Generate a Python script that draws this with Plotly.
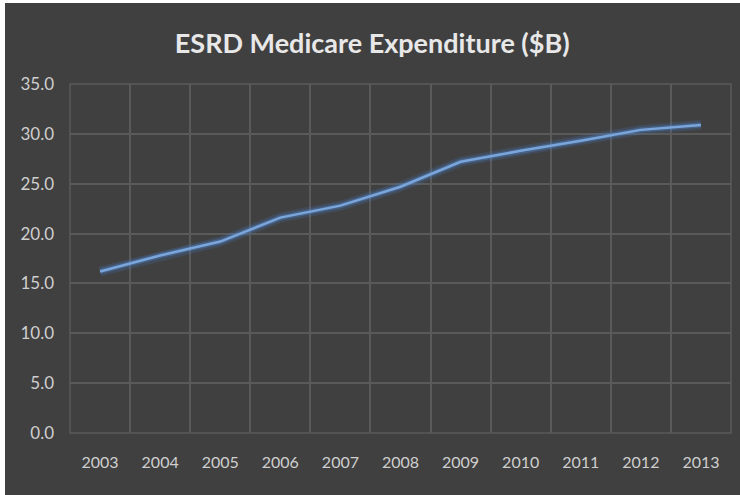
import plotly.graph_objects as go

years = ["2003", "2004", "2005", "2006", "2007", "2008", "2009", "2010", "2011", "2012", "2013"]
expenditure = [16.2, 17.8, 19.2, 21.6, 22.8, 24.7, 27.2, 28.3, 29.3, 30.4, 30.9]
y_ticks = [0, 5, 10, 15, 20, 25, 30, 35]
title_text = "ESRD Medicare Expenditure ($B)"

BG = "#404040"
GRID = "#5a5a5a"
TXT = "#cfcfcf"

fig = go.Figure()
# glow layers
fig.add_trace(go.Scatter(x=years, y=expenditure, mode="lines",
                         line=dict(color="rgba(70,130,210,0.18)", width=10),
                         hoverinfo="skip", showlegend=False))
fig.add_trace(go.Scatter(x=years, y=expenditure, mode="lines",
                         line=dict(color="rgba(80,140,215,0.35)", width=5.5),
                         hoverinfo="skip", showlegend=False))
fig.add_trace(go.Scatter(x=years, y=expenditure, mode="lines",
                         line=dict(color="#7aa6dc", width=2.5),
                         name="Expenditure", showlegend=False))

W, H = 740, 495
ml, mr, mt, mb = 70, 9, 84, 62
pw, ph = W - ml - mr, H - mt - mb

def px_x(p):
    return (p - ml) / pw

def px_y(p):
    return (H - mb - p) / ph

# plot-area frame (edge gridlines)
fig.add_shape(type="rect", xref="paper", yref="paper", x0=0, x1=1, y0=0, y1=1,
              line=dict(color=GRID, width=1.5), layer="below")

# white strips at the left and top edges of the image
fig.add_shape(type="rect", xref="paper", yref="paper",
              x0=px_x(-2), x1=px_x(5), y0=px_y(H + 2), y1=px_y(-2),
              fillcolor="white", line_width=0, layer="above")
fig.add_shape(type="rect", xref="paper", yref="paper",
              x0=px_x(-2), x1=px_x(W + 2), y0=px_y(3), y1=px_y(-2),
              fillcolor="white", line_width=0, layer="above")

fig.update_layout(
    width=W, height=H,
    margin=dict(l=ml, r=mr, t=mt, b=mb),
    paper_bgcolor=BG, plot_bgcolor=BG,
    title=dict(text=title_text, x=0.503, xanchor="center", y=1 - 44 / H, yanchor="middle",
               font=dict(family="Lato", size=27, color="#e8e8e8", weight="bold")),
    font=dict(family="Lato", size=16, color=TXT),
    xaxis=dict(type="category", tickson="boundaries", range=[-0.5, 10.5],
               showgrid=True, gridcolor=GRID,
               gridwidth=1.5, ticks="", showline=False, zeroline=False,
               ticklabelstandoff=18, tickfont=dict(size=16, color=TXT)),
    yaxis=dict(range=[0, 35], tickvals=y_ticks, tickformat=".1f", showgrid=True,
               gridcolor=GRID, gridwidth=1.5, zeroline=False, showline=False, ticks="",
               ticklabelstandoff=15, tickfont=dict(size=17, color=TXT)),
)

fig.write_html("out.html")
